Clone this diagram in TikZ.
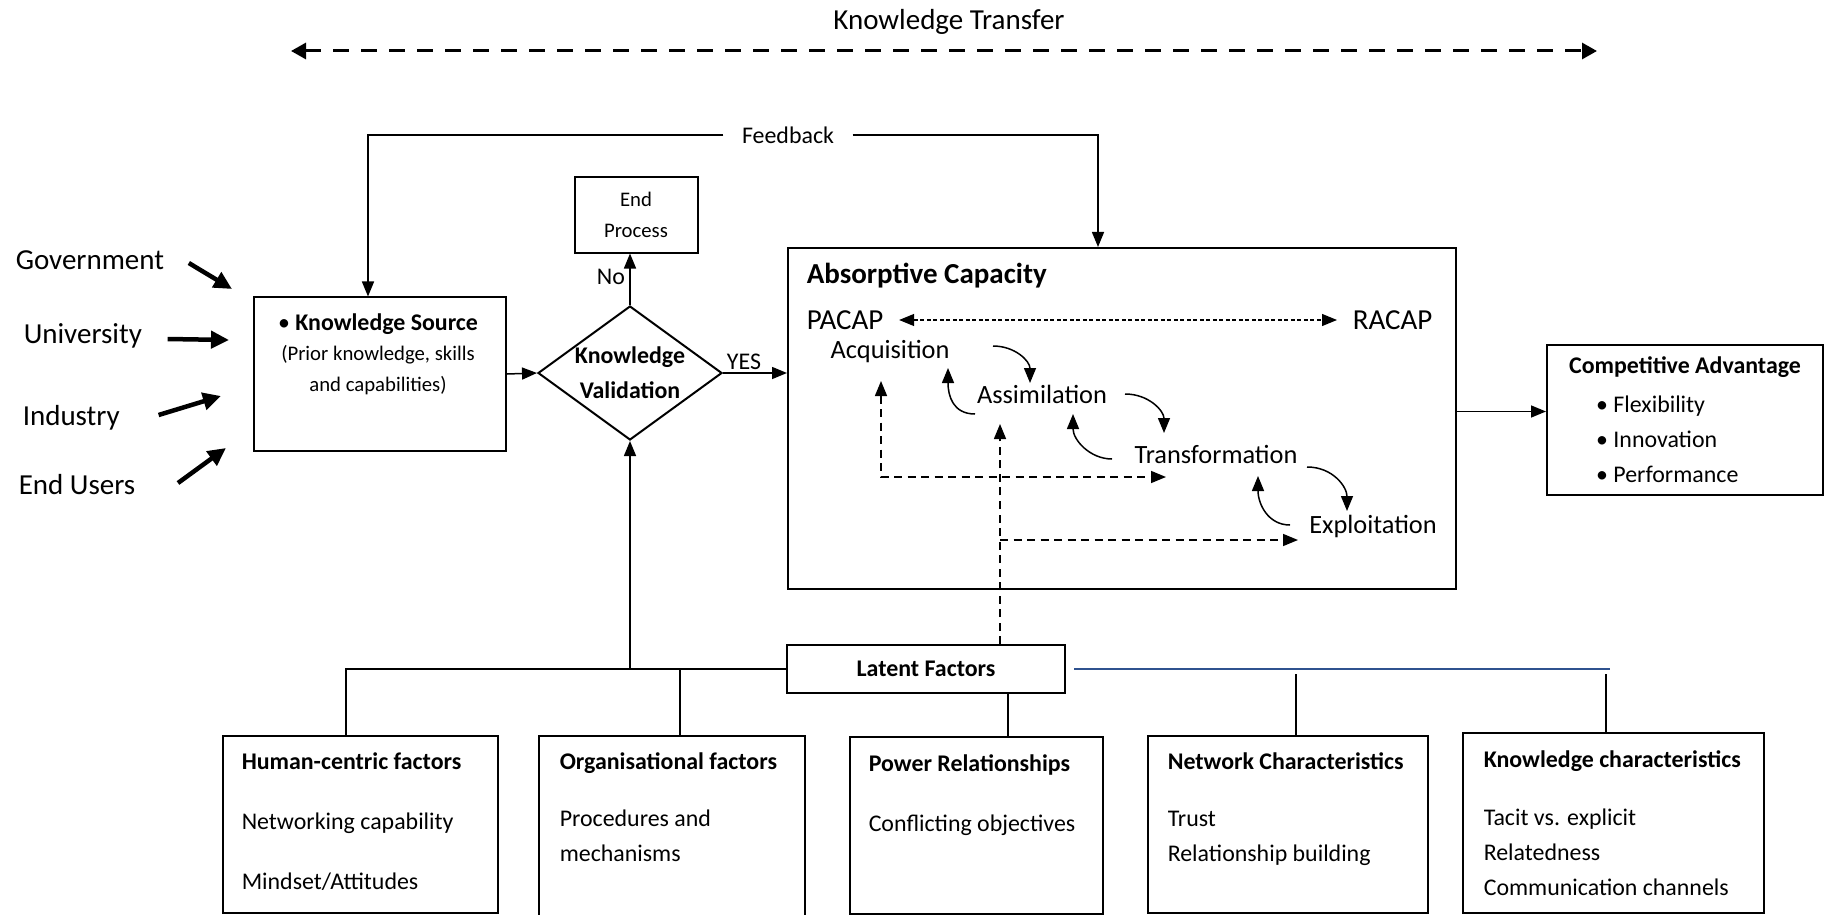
\documentclass[tikz,border=0pt]{standalone}
\usepackage{fontspec}
\setmainfont{Carlito}
\usetikzlibrary{arrows.meta,shapes.geometric,calc}

\definecolor{lineblue}{RGB}{47,82,143}
\newcommand{\kbig}{\fontsize{16.5}{20}\selectfont}
\newcommand{\kmid}{\fontsize{15}{18}\selectfont}
\newcommand{\knorm}{\fontsize{13.6}{20}\selectfont}
\newcommand{\ksmall}{\fontsize{11.8}{17.5}\selectfont}

\begin{document}
\begin{tikzpicture}[x=0.2mm, y=-0.2mm, line width=0.3mm, >={Triangle[length=3mm,width=2.4mm]}]
% Styles
\tikzstyle{box} = [rectangle, draw, line width=0.4mm, inner sep=0pt]
\tikzstyle{plain_text} = [inner sep=0pt]
\tikzstyle{decision} = [diamond, draw, line width=0.4mm, aspect=1.37, minimum width=36.8mm, minimum height=26.8mm, inner sep=0pt, align=center, font=\knorm\bfseries]
\tikzstyle{factor_text} = [anchor=north west, inner sep=0pt, align=left, font=\knorm]
\tikzstyle{thick_arrow} = [-{Triangle[length=3.6mm,width=3.4mm]}, line width=0.9mm]
\tikzstyle{dash_arrow} = [->, dash pattern=on 1.6mm off 1.1mm]

\useasboundingbox (0,0) rectangle (1825,915);

% Knowledge transfer
\node[plain_text, font=\kbig] (transfer) at (949,22) {Knowledge Transfer};
\coordinate (transfer_l) at (291,51);
\coordinate (transfer_r) at (1597,51);
\draw[{Triangle[length=3mm,width=3.2mm]}-{Triangle[length=3mm,width=3.2mm]}, line width=0.6mm, dash pattern=on 3.2mm off 2.4mm] (transfer_l) -- (transfer_r);

% Sources
\node[plain_text, font=\kbig, anchor=west] (gov) at (15,260) {Government};
\node[plain_text, font=\kbig, anchor=west] (uni) at (23,336) {University};
\node[plain_text, font=\kbig, anchor=west] (ind) at (22,418) {Industry};
\node[plain_text, font=\kbig, anchor=west] (endu) at (18,485) {End Users};

% Knowledge source
\node[box, minimum width=50.4mm, minimum height=30.6mm] (ksource) at (380,374) {};
\node[plain_text, anchor=north, align=center, font=\ksmall] (ksource_txt) at ($(ksource.north)+(-2,16)$) {{\knorm\textbullet\ \textbf{Knowledge Source}}\\(Prior knowledge, skills\\and capabilities)};

\foreach \src/\dx/\dy/\ex/\ey in {gov/24/3/-21/-85, uni/25/3/-24/-34, ind/38/-3/-32/22, endu/42/-2/-27/74}
    \draw[thick_arrow] ($(\src.east)+(\dx,\dy)$) -- ($(ksource.west)+(\ex,\ey)$);

% Validation and end
\node[decision] (validate) at (630,373) {Knowledge\\Validation};
\node[box, minimum width=24.6mm, minimum height=15mm, align=center, font=\ksmall] (endproc) at (636,215) {End\\Process};
\node[plain_text, font=\knorm] (no_lbl) at (611,277) {No};
\node[plain_text, font=\knorm] (yes_lbl) at (744,362) {YES};

\draw[->] (ksource.east) -- (validate.west);
\draw[->] (validate.north) -- (validate.north |- endproc.south);

% Absorptive capacity
\node[box, minimum width=133.6mm, minimum height=68.2mm] (acap) at (1122,418.5) {};
\node[plain_text, font=\kbig\bfseries, anchor=west] (acap_title) at (806,276) {Absorptive Capacity};
\node[plain_text, font=\kbig, anchor=west] (pacap) at (806,320) {PACAP};
\node[plain_text, font=\kbig, anchor=west] (racap) at (1352,320) {RACAP};
\draw[<->, dash pattern=on 0.8mm off 0.5mm, line width=0.25mm, shorten <=3mm, shorten >=3mm] (pacap.east) -- (racap.west);

\draw[->] (validate.east) -- (validate.east -| acap.west);

\node[plain_text, font=\kmid] (acq) at (890,352) {Acquisition};
\node[plain_text, font=\kmid] (ass) at (1042,394) {Assimilation};
\node[plain_text, font=\kmid] (trans) at (1216,454) {Transformation};
\node[plain_text, font=\kmid] (expl) at (1373,526) {Exploitation};

% Stage loops
\draw[->] ($(acq)+(103,-6)$) .. controls +(22,0) and +(0,-22) .. ($(ass)+(-12,-11)$);
\draw[->] ($(ass)+(-67,20)$) .. controls +(-22,0) and +(0,28) .. ($(acq)+(58,16)$);
\draw[->] ($(ass)+(83,0)$) .. controls +(24,0) and +(0,-22) .. ($(trans)+(-52,-21)$);
\draw[->] ($(trans)+(-104,5)$) .. controls +(-22,0) and +(0,26) .. ($(ass)+(31,20)$);
\draw[->] ($(trans)+(91,13)$) .. controls +(26,0) and +(0,-24) .. ($(expl)+(-26,-15)$);
\draw[->] ($(expl)+(-83,-1)$) .. controls +(-22,0) and +(0,28) .. ($(trans)+(42,22)$);

\draw[dash_arrow, <->] ($(acq)+(-9,29)$) |- ($(trans)+(-50,23)$);

% Feedback
\node[plain_text, font=\knorm, inner xsep=3.6mm] (feedback) at (788,135) {Feedback};
\draw[->] (feedback.west) -| ([xshift=-2.4mm]ksource.north);
\draw[->] (feedback.east) -| ([xshift=-4.8mm]acap.north);

% Competitive advantage
\node[box, minimum width=55.2mm, minimum height=30mm, align=left, font=\knorm] (compadv) at (1685,420) {\textbf{Competitive Advantage}\\[2pt]\hspace*{5.4mm}\textbullet\ Flexibility\\\hspace*{5.4mm}\textbullet\ Innovation\\\hspace*{5.4mm}\textbullet\ Performance};
\draw[->] ([yshift=1.4mm]acap.east) -- ([yshift=1.4mm]acap.east -| compadv.west);

% Latent factors
\node[box, minimum width=55.6mm, minimum height=9.6mm, font=\knorm\bfseries] (latent) at (926,669) {Latent Factors};
\coordinate (latent_up) at ($(latent.north)+(74,0)$);
\coordinate (branch) at ($(latent_up)+(0,-104)$);
\draw[dash_arrow] (latent_up) -- ($(ass)+(-42,30)$);
\draw[dash_arrow] (branch) -- ++(298,0);

% Factor boxes
\node[box, minimum width=55mm, minimum height=35.4mm] (human) at (360.5,824.5) {};
\node[box, minimum width=53.2mm, minimum height=37.8mm] (organ) at (672,830.5) {};
\node[box, minimum width=50.6mm, minimum height=35.4mm] (power) at (976.5,825.5) {};
\node[box, minimum width=56mm, minimum height=35.4mm] (network) at (1288,824.5) {};
\node[box, minimum width=60.2mm, minimum height=36mm] (kchar) at (1613.5,823) {};

\node[factor_text] (human_txt) at (241,752) {\textbf{Human-centric factors}\\[14pt]Networking capability\\[14pt]Mindset/Attitudes};
\node[factor_text] (organ_txt) at (559,752) {\textbf{Organisational factors}\\[12.4pt]Procedures and\\mechanisms};
\node[factor_text] (power_txt) at (868,754) {\textbf{Power Relationships}\\[14pt]Conflicting objectives};
\node[factor_text] (network_txt) at (1167,752) {\textbf{Network Characteristics}\\[12.4pt]Trust\\Relationship building};
\node[factor_text] (kchar_txt) at (1483,750) {\textbf{Knowledge characteristics}\\[13pt]Tacit vs. explicit\\Relatedness\\Communication channels};

% Latent links
\draw (latent.west) -| ([xshift=-2.9mm]human.north);
\draw[->] (validate.south |- latent.west) -- (validate.south);
\draw ([xshift=1.6mm]organ.north) -- ([xshift=1.6mm]organ.north |- latent.west);
\draw ([xshift=6.3mm]power.north) -- ([xshift=6.3mm]power.north |- latent.south);
\draw[lineblue] ([xshift=1.6mm]latent.east) -- ([xshift=-0.7mm]kchar.north |- latent.east);
\draw ([xshift=1.6mm]network.north) -- ([xshift=1.6mm,yshift=-1mm]network.north |- latent.east);
\draw ([xshift=-1.5mm]kchar.north) -- ([xshift=-1.5mm,yshift=-1mm]kchar.north |- latent.east);
\end{tikzpicture}
\end{document}
